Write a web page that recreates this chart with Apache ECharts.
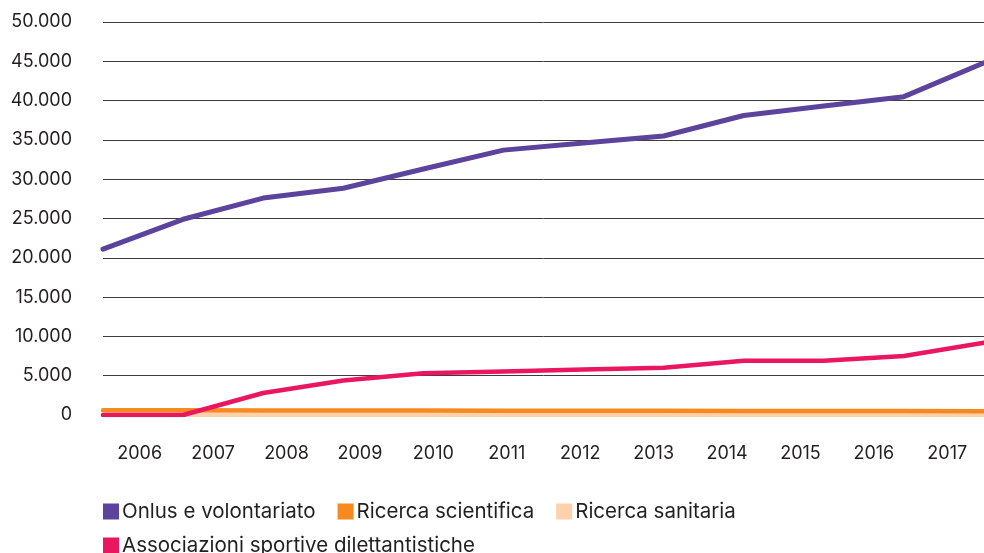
<!DOCTYPE html>
<html>
<head>
<meta charset="utf-8">
<script src="https://cdn.jsdelivr.net/npm/echarts@6/dist/echarts.min.js"></script>
<style>
html,body{margin:0;padding:0;background:#fff;}
#chart{width:984px;height:553px;}
</style>
</head>
<body>
<div id="chart"></div>
<script>
const years = ['2006','2007','2008','2009','2010','2011','2012','2013','2014','2015','2016','2017'];
const onlus = [21100, 24900, 27600, 28850, 31300, 33700, 34600, 35500, 38100, 39300, 40500, 44800];
const ricercaScientifica = [600, 600, 580, 570, 560, 550, 540, 530, 520, 510, 500, 480];
const ricercaSanitaria = [40, 40, 40, 40, 40, 40, 40, 40, 40, 40, 40, 40];
const associazioni = [0, 0, 2800, 4400, 5300, 5550, 5800, 6000, 6900, 6900, 7500, 9200];
const seriesNames = ['Onlus e volontariato', 'Ricerca scientifica', 'Ricerca sanitaria', 'Associazioni sportive dilettantistiche'];
const colors = ['#5c439c', '#f6891f', '#fdd1ab', '#eb1660'];

const FONT = 'Inter';
const TXT = '#231f20';

function fmt(v){
  return String(v).replace(/\B(?=(\d{3})+(?!\d))/g, '.');
}

const chart = echarts.init(document.getElementById('chart'), null, {renderer:'canvas'});
const mk = (name, data, color, z, w) => ({
  name, type:'line', data, xAxisIndex:0, yAxisIndex:0,
  symbol:'none', z,
  lineStyle:{color, width:w, cap:'round', join:'round'},
  itemStyle:{color},
  emphasis:{disabled:true}
});
const legendBase = {
  icon:'rect', itemWidth:16, itemHeight:16, itemGap:22, padding:0,
  textStyle:{fontFamily:FONT, fontSize:20.5, color:TXT, padding:[0,0,0,-2]},
  selectedMode:false
};
chart.setOption({
  animation:false,
  backgroundColor:'#fff',
  grid:{left:103, right:0, top:22, bottom:138, containLabel:false},
  legend:[
    Object.assign({}, legendBase, {data:seriesNames.slice(0,3), left:103, top:501}),
    Object.assign({}, legendBase, {data:[seriesNames[3]], left:103, top:535})
  ],
  xAxis:[{
    type:'category', data:years, boundaryGap:false,
    axisLine:{show:false}, axisTick:{show:false}, axisLabel:{show:false}, splitLine:{show:false}
  },{
    type:'category', data:years, boundaryGap:true, position:'bottom',
    axisLine:{show:false}, axisTick:{show:false}, splitLine:{show:false},
    axisLabel:{fontFamily:FONT, fontSize:18, color:TXT, margin:30}
  }],
  yAxis:{
    type:'value', min:0, max:50000, interval:5000,
    axisLine:{show:false}, axisTick:{show:false},
    axisLabel:{fontFamily:FONT, fontSize:18, color:TXT, margin:31, formatter:fmt},
    splitLine:{show:true, lineStyle:{color:'#3c3c3c', width:1}}
  },
  series:[
    mk(seriesNames[0], onlus, colors[0], 4, 5),
    mk(seriesNames[1], ricercaScientifica, colors[1], 3, 4.5),
    mk(seriesNames[2], ricercaSanitaria, colors[2], 2, 4.5),
    mk(seriesNames[3], associazioni, colors[3], 5, 4.5)
  ]
});
</script>
</body>
</html>
